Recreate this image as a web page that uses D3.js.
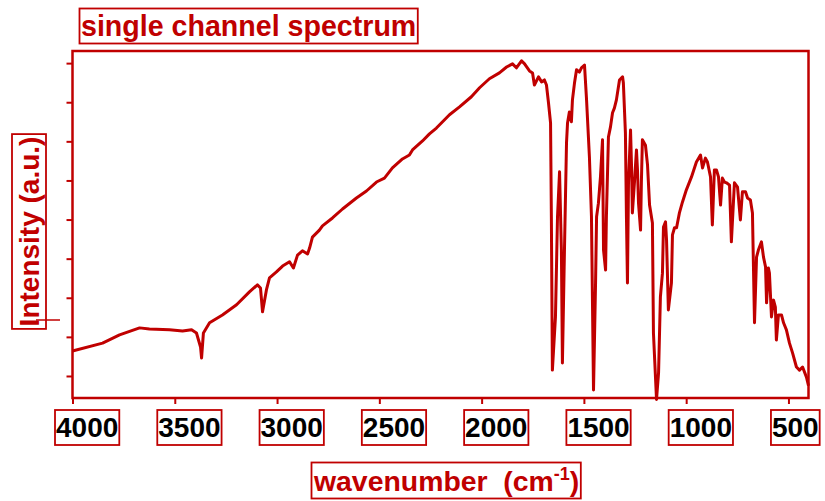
<!DOCTYPE html>
<html>
<head>
<meta charset="utf-8">
<script src="https://cdn.jsdelivr.net/npm/d3@7"></script>
<style>
  body { margin: 0; background: #fff; }
  text { font-family: "Liberation Sans", Arial, sans-serif; font-weight: bold; }
</style>
</head>
<body>
<div id="chart"></div>
<script>
// values (wavenumber in cm-1, intensity in a.u.)
var wavenumber = [4000, 3853, 3770, 3672, 3624, 3526, 3462, 3418, 3394, 3374, 3369, 3360, 3330, 3267, 3198,
    3135, 3096, 3081, 3071, 3052, 3037, 3003, 2973, 2939, 2920, 2900, 2876, 2851, 2841, 2827, 2793, 2778,
    2729, 2680, 2612, 2563, 2514, 2475, 2436, 2387, 2353, 2338, 2289, 2255, 2221, 2157, 2108, 2050, 2010,
    1962, 1913, 1878, 1849, 1830, 1805, 1790, 1766, 1751, 1742, 1722, 1707, 1693, 1683, 1673, 1663, 1659,
    1654, 1639, 1629, 1619, 1610, 1605, 1595, 1585, 1580, 1571, 1561, 1556, 1546, 1536, 1522, 1512, 1497,
    1487, 1473, 1463, 1453, 1443, 1438, 1429, 1419, 1409, 1404, 1394, 1390, 1380, 1370, 1360, 1351, 1341,
    1326, 1311, 1307, 1297, 1292, 1287, 1282, 1272, 1267, 1263, 1253, 1243, 1238, 1233, 1223, 1219, 1214,
    1199, 1189, 1179, 1165, 1160, 1145, 1135, 1126, 1116, 1111, 1101, 1096, 1087, 1072, 1067, 1057, 1047,
    1033, 1018, 999, 974, 950, 930, 920, 906, 896, 881, 872, 862, 852, 842, 832, 823, 813, 803, 788, 779,
    764, 749, 735, 725, 710, 700, 686, 676, 666, 656, 647, 632, 622, 612, 607, 598, 593, 583, 573, 564,
    559, 549, 534, 524, 510, 495, 480, 461, 446, 431, 412, 402];

var intensity = [1.64, 1.84, 2.05, 2.23, 2.20, 2.18, 2.15, 2.18, 2.10, 1.74, 1.46, 2.10, 2.36, 2.56, 2.82,
    3.15, 3.33, 3.25, 2.64, 3.20, 3.51, 3.66, 3.81, 3.92, 3.76, 4.09, 4.20, 4.12, 4.27, 4.55, 4.73, 4.84,
    5.04, 5.27, 5.55, 5.73, 5.96, 6.06, 6.32, 6.55, 6.65, 6.78, 7.01, 7.19, 7.34, 7.68, 7.88, 8.14, 8.37,
    8.60, 8.75, 8.90, 8.98, 8.88, 9.06, 8.98, 8.80, 8.75, 8.44, 8.65, 8.52, 8.57, 8.44, 7.98, 7.47, 5.07,
    1.15, 2.51, 5.07, 6.22, 4.22, 1.33, 4.22, 6.96, 7.47, 7.75, 7.50, 8.06, 8.49, 8.83, 8.77, 8.88, 8.95,
    8.06, 6.60, 5.07, 0.64, 3.38, 5.07, 5.42, 6.09, 7.04, 4.22, 3.71, 5.07, 7.11, 7.37, 7.73, 7.85, 8.06,
    8.57, 8.65, 8.49, 7.21, 5.07, 3.38, 5.94, 7.29, 6.35, 5.17, 5.94, 6.78, 6.27, 5.42, 4.73, 5.94, 7.04,
    6.90, 6.40, 5.37, 4.91, 2.10, 0.40, 1.08, 3.02, 3.63, 4.81, 4.94, 4.48, 2.69, 3.38, 4.61, 4.79, 4.79,
    5.17, 5.45, 5.76, 6.09, 6.47, 6.65, 6.32, 6.57, 6.47, 6.09, 4.86, 6.27, 6.27, 6.09, 5.37, 6.06, 5.96,
    5.94, 5.88, 4.43, 5.94, 5.83, 4.99, 5.71, 5.71, 5.55, 5.50, 5.17, 2.36, 4.04, 4.22, 4.43, 4.04, 3.79,
    2.87, 3.76, 3.63, 2.51, 2.94, 2.76, 1.92, 2.56, 2.56, 2.36, 2.18, 1.84, 1.59, 1.23, 1.15, 1.23, 0.97, 0.75];

var xTicks = [4000, 3500, 3000, 2500, 2000, 1500, 1000, 500];
var yTicks = [1, 2, 3, 4, 5, 6, 7, 8, 9];

var red = "#c00000";

function drawSpectrum() {
    "use strict";
    var svg = d3.select("#chart")
        .append("svg")
        .attr("width", 825)
        .attr("height", 501);

    var left = 72.5, right = 808.5, top = 51, bottom = 398;

    var x = d3.scaleLinear().domain([4000, 402]).range([left, right]);
    var y = d3.scaleLinear().domain([0.437, 9.31]).range([bottom, top]);

    var data = wavenumber.map(function (w, i) {
        return {w: w, v: intensity[i]};
    });

    // frame
    svg.append("rect")
        .attr("x", left)
        .attr("y", top)
        .attr("width", right - left)
        .attr("height", bottom - top)
        .attr("fill", "none")
        .attr("stroke", red)
        .attr("stroke-width", 2.5);

    // x axis ticks
    var xAxis = svg.append("g")
        .attr("transform", "translate(0," + bottom + ")")
        .call(d3.axisBottom(x).tickValues(xTicks).tickSize(6).tickFormat(""));
    xAxis.select(".domain").remove();
    xAxis.selectAll("line").attr("stroke", red).attr("stroke-width", 2);

    // y axis ticks, no labels
    var yAxis = svg.append("g")
        .attr("transform", "translate(" + left + ",0)")
        .call(d3.axisLeft(y).tickValues(yTicks).tickSize(6).tickFormat(""));
    yAxis.select(".domain").remove();
    yAxis.selectAll("line").attr("stroke", red).attr("stroke-width", 2);

    // spectrum
    var line = d3.line()
        .x(function (d) { return x(d.w); })
        .y(function (d) { return y(d.v); });

    svg.append("path")
        .datum(data)
        .attr("d", line)
        .attr("fill", "none")
        .attr("stroke", red)
        .attr("stroke-width", 3)
        .attr("stroke-linejoin", "round");

    function boxIt(parent, textSel, padX, padY) {
        var b = textSel.node().getBBox();
        parent.append("rect")
            .attr("x", b.x - padX)
            .attr("y", b.y - padY)
            .attr("width", b.width + 2 * padX)
            .attr("height", b.height + 2 * padY)
            .attr("fill", "none")
            .attr("stroke", red)
            .attr("stroke-width", 1.8);
    }

    // tick labels with their boxes
    xTicks.forEach(function (t) {
        var lbl = svg.append("text")
            .attr("x", x(t) - 16.5)
            .attr("y", 437)
            .attr("text-anchor", "start")
            .style("font-size", "28px")
            .attr("fill", "#000")
            .text(t);
        boxIt(svg, lbl, 1, 2);
    });

    // title
    var title = svg.append("text")
        .attr("x", 81)
        .attr("y", 36)
        .style("font-size", "28.6px")
        .attr("fill", red)
        .text("single channel spectrum");
    boxIt(svg, title, 1.5, 1.5);

    // y label
    var yg = svg.append("g")
        .attr("transform", "translate(38.5,231.5) rotate(-90)");
    var ylab = yg.append("text")
        .attr("x", 0)
        .attr("y", 0)
        .attr("text-anchor", "middle")
        .style("font-size", "28px")
        .attr("fill", red)
        .text("Intensity (a.u.)");
    boxIt(yg, ylab, 2.5, 1.5);

    svg.append("line")
        .attr("x1", 36).attr("x2", 60)
        .attr("y1", 320).attr("y2", 320)
        .attr("stroke", red)
        .attr("stroke-width", 1.5);

    // x label
    var xlab = svg.append("text")
        .attr("x", 314)
        .attr("y", 491)
        .style("font-size", "28.4px")
        .style("white-space", "pre")
        .attr("fill", red);
    xlab.append("tspan").text("wavenumber  (cm");
    xlab.append("tspan").attr("dy", -11).style("font-size", "18px").text("-1");
    xlab.append("tspan").attr("dy", 11).text(")");
    boxIt(svg, xlab, 1.5, 1.5);
}

drawSpectrum();
</script>
</body>
</html>
